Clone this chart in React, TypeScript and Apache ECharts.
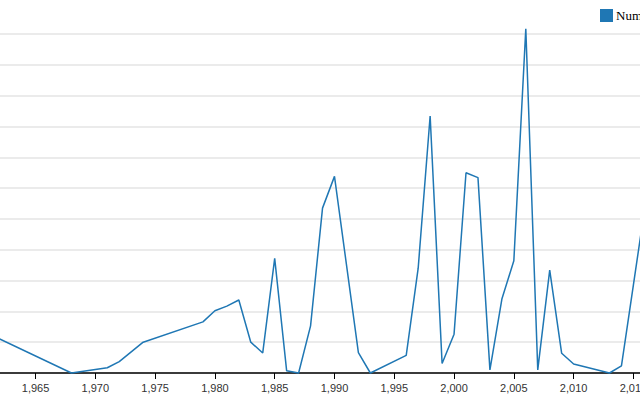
import React, { useEffect, useRef } from "react";
import * as echarts from "echarts";

const years = [1960, 1968, 1971, 1972, 1974, 1979, 1980, 1981, 1982, 1983, 1984, 1985, 1986, 1987, 1988, 1989, 1990, 1992, 1993, 1996, 1997, 1998, 1999, 2000, 2001, 2002, 2003, 2004, 2005, 2006, 2007, 2008, 2009, 2010, 2013, 2014, 2015, 2016];
const values = [1.47, 0, 0.17, 0.37, 1.0, 1.66, 2.02, 2.17, 2.37, 1.0, 0.65, 3.72, 0.07, 0, 1.53, 5.35, 6.38, 0.66, 0, 0.57, 3.4, 8.34, 0.31, 1.26, 6.5, 6.34, 0.1, 2.4, 3.64, 11.17, 0.1, 3.34, 0.64, 0.29, 0, 0.23, 2.86, 5.5];
const seriesName = "Number";

export default function App() {
  const ref = useRef<HTMLDivElement>(null);
  useEffect(() => {
    if (!ref.current) return;
    const chart = echarts.init(ref.current, undefined, { renderer: "svg" });
    chart.setOption({
      animation: false,
      legend: {
        left: 636,
        top: 4,
        icon: "rect",
        itemWidth: 13,
        itemHeight: 13,
        itemGap: 4,
        textStyle: { fontFamily: "Liberation Serif", fontSize: 13, color: "#000", padding: [0, 0, 0, -2] },
        data: [seriesName],
      },
      grid: { left: 11.8, right: 65.8, top: 34, bottom: 27, containLabel: false },
      xAxis: {
        type: "value",
        min: 1960,
        max: 2020,
        interval: 5,
        axisLine: { lineStyle: { color: "#000", width: 1.5 } },
        axisTick: { show: true, length: 6, lineStyle: { color: "#000", width: 1 } },
        axisLabel: { color: "#333", fontSize: 11, fontFamily: "Liberation Sans", margin: 9 },
        splitLine: { show: false },
      },
      yAxis: {
        type: "value",
        min: 0,
        max: 11,
        interval: 1,
        axisLine: { show: false },
        axisTick: { show: false },
        axisLabel: { show: false },
        splitLine: { lineStyle: { color: "#ebebeb", width: 2 } },
      },
      series: [
        {
          name: seriesName,
          type: "line",
          data: years.map((y, i) => [y, values[i]]),
          showSymbol: false,
          clip: false,
          color: "#1f77b4",
          lineStyle: { color: "#1f77b4", width: 1.5 },
        },
      ],
    });
    return () => chart.dispose();
  }, []);
  return (
    <div
      ref={ref}
      style={{ position: "absolute", left: -41, top: 0, width: 800, height: 400 }}
    />
  );
}
